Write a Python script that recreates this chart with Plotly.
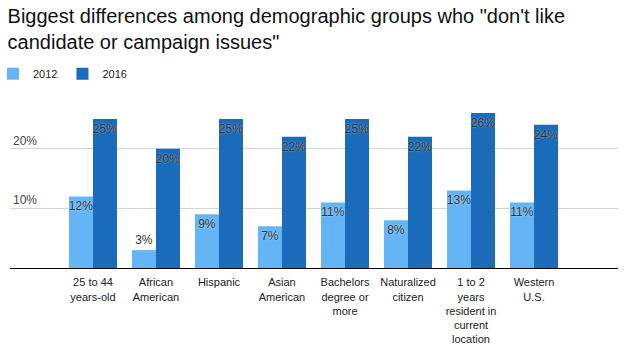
import plotly.graph_objects as go

categories = [
    "25 to 44<br>years-old",
    "African<br>American",
    "Hispanic",
    "Asian<br>American",
    "Bachelors<br>degree or<br>more",
    "Naturalized<br>citizen",
    "1 to 2<br>years<br>resident in<br>current<br>location",
    "Western<br>U.S.",
]
values_2012 = [12, 3, 9, 7, 11, 8, 13, 11]
values_2016 = [25, 20, 25, 22, 25, 22, 26, 24]
pos_2012 = ["inside", "outside", "inside", "inside", "inside", "inside", "inside", "inside"]
tick_vals = [10, 20]
tick_text = ["10%", "20%"]

FONT = "Liberation Sans, Arial, Helvetica, sans-serif"
label_font = dict(family=FONT, size=12, color="#333333",
                  shadow="0px 0px 2px rgba(255,255,255,0.6)")

fig = go.Figure()
fig.add_trace(go.Bar(
    name="2012", x=categories, y=values_2012,
    marker=dict(color="#64b5f6", line=dict(width=0)),
    text=[f"{v}%" for v in values_2012],
    textposition=pos_2012, insidetextanchor="end",
    textangle=0, constraintext="none", cliponaxis=False,
    textfont=label_font, insidetextfont=label_font, outsidetextfont=label_font,
    hoverinfo="skip",
))
fig.add_trace(go.Bar(
    name="2016", x=categories, y=values_2016,
    marker=dict(color="#1a6bb9", line=dict(width=0)),
    text=[f"{v}%" for v in values_2016],
    textposition="inside", insidetextanchor="end",
    textangle=0, constraintext="none", cliponaxis=False,
    textfont=label_font, insidetextfont=label_font, outsidetextfont=label_font,
    hoverinfo="skip",
))

fig.update_layout(
    width=632, height=353,
    margin=dict(l=10, r=14, t=101, b=85, autoexpand=False),
    paper_bgcolor="white", plot_bgcolor="white",
    barmode="group", bargap=0.238, bargroupgap=0,
    font=dict(family=FONT, size=12, color="#222222"),
    title=dict(
        text="Biggest differences among demographic groups who \"don't like<br>candidate or campaign issues\"",
        x=0.012, xref="container", xanchor="left",
        y=0.935, yref="container", yanchor="top",
        font=dict(family=FONT, size=20, color="#111111"),
    ),
    legend=dict(
        orientation="h", x=-0.028, xanchor="left", y=1.25, yanchor="top",
        font=dict(family=FONT, size=11, color="#222222"),
        itemwidth=30, itemsizing="constant", traceorder="normal",
        bgcolor="rgba(0,0,0,0)",
    ),
    showlegend=True,
)
fig.update_xaxes(
    range=[-1.317, 8.333], showgrid=False, showline=True, linecolor="#000000", linewidth=1,
    ticks="", tickfont=dict(family=FONT, size=11, color="#222222"), tickangle=0,
    ticklabelstandoff=4, automargin=False,
)
fig.update_yaxes(
    range=[0, 28], tickvals=tick_vals, ticktext=tick_text,
    ticklabelposition="inside top", showgrid=True, gridcolor="#d6d6d6", gridwidth=1,
    zeroline=False, showline=False, ticks="", automargin=False,
    tickfont=dict(family=FONT, size=12, color="#444444"),
)

fig.write_html("out.html")
